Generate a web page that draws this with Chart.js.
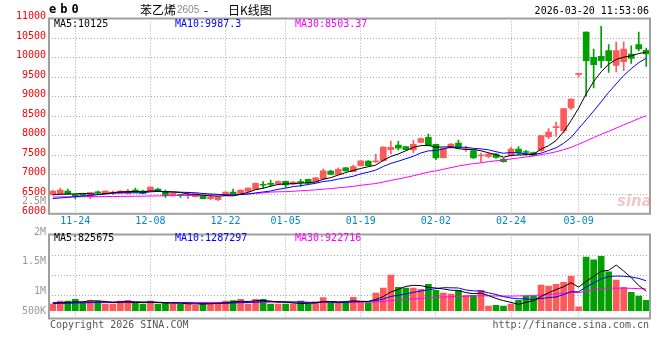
<!DOCTYPE html>
<html>
<head>
<meta charset="utf-8">
<script src="https://cdn.jsdelivr.net/npm/chart.js@4.4.1/dist/chart.umd.min.js"></script>
<style>
  body { margin: 0; background: #fff; }
  #wrap { position: relative; width: 660px; height: 360px; overflow: hidden; font-family: 'DejaVu Sans Mono', monospace; font-size: 10px; }
  canvas { position: absolute; left: 0; }
  .t { position: absolute; white-space: pre; line-height: 12px; }
  .vl { position: absolute; right: 614px; color: #999; line-height: 12px; }
</style>
</head>
<body>
<div id="wrap">
  <canvas id="kline" width="660" height="230" style="top:0"></canvas>
  <canvas id="vol" width="660" height="100" style="top:230px"></canvas>

  <div class="t" style="left:49px;top:3px;font-weight:bold;font-size:12px;letter-spacing:4px">eb0</div>
  <div class="t" style="left:140px;top:3px;font-family:'Noto Sans CJK SC';font-size:12px;line-height:14px">苯乙烯</div>
  <div class="t" style="left:177px;top:4px;font-family:'Liberation Sans';font-size:10px;color:#888">2605</div>
  <div class="t" style="left:204px;top:3px;font-family:'Noto Sans CJK SC';font-size:12px;line-height:14px">-</div>
  <div class="t" style="left:228px;top:3px;font-family:'Noto Sans CJK SC';font-size:12px;line-height:14px">日K线图</div>
  <div class="t" style="right:11px;top:5px">2026-03-20 11:53:06</div>

  <div class="t" style="left:54px;top:18px;color:#000">MA5:10125</div>
  <div class="t" style="left:175px;top:18px;color:#0000ff">MA10:9987.3</div>
  <div class="t" style="left:295px;top:18px;color:#ff00ff">MA30:8503.37</div>

  <div class="t" style="left:54px;top:232px;color:#000">MA5:825675</div>
  <div class="t" style="left:175px;top:232px;color:#0000ff">MA10:1287297</div>
  <div class="t" style="left:295px;top:232px;color:#ff00ff">MA30:922716</div>

  <div class="vl" style="top:195px">2.5M</div>
  <div class="vl" style="top:226px">2M</div>
  <div class="vl" style="top:255px">1.5M</div>
  <div class="vl" style="top:285px">1M</div>
  <div class="vl" style="top:305px">500K</div>

  <div class="t" style="left:617px;top:193px;font-family:'DejaVu Sans';font-style:italic;font-weight:bold;font-size:15px;line-height:16px;color:rgba(225,130,130,0.45)">sina</div>

  <div class="t" style="left:50px;top:319px;color:#555">Copyright 2026 SINA.COM</div>
  <div class="t" style="right:11px;top:319px;color:#555">http://finance.sina.com.cn</div>
</div>

<script>
const dates = [
  '11-19','11-20','11-21','11-24','11-25','11-26','11-27','11-28','12-01','12-02',
  '12-03','12-04','12-05','12-08','12-09','12-10','12-11','12-12','12-15','12-16',
  '12-17','12-18','12-19','12-22','12-23','12-24','12-25','12-26','12-29','12-30',
  '12-31','01-05','01-06','01-07','01-08','01-09','01-12','01-13','01-14','01-15',
  '01-16','01-19','01-20','01-21','01-22','01-23','01-26','01-27','01-28','01-29',
  '01-30','02-02','02-03','02-04','02-05','02-06','02-09','02-10','02-11','02-12',
  '02-13','02-24','02-25','02-26','02-27','03-02','03-03','03-04','03-05','03-06',
  '03-09','03-10','03-11','03-12','03-13','03-16','03-17','03-18','03-19','03-20'
];
const shownDates = ['11-24','12-08','12-22','01-05','01-19','02-02','02-24','03-09'];

const opens = [
  6489,6507,6584,6490,6478,6439,6545,6507,6524,6524,
  6515,6609,6584,6584,6635,6575,6464,6490,6480,6439,
  6456,6388,6362,6473,6558,6520,6575,6627,6745,6770,
  6763,6830,6760,6810,6880,6822,6891,7096,7011,7180,
  7078,7231,7352,7330,7359,7640,7761,7718,7633,7830,
  7958,7779,7436,7685,7812,7640,7616,7480,7471,7531,
  7403,7488,7659,7580,7565,7616,7975,8205,8128,8708,
  9570,10654,10006,10031,10176,9801,9894,10092,10330,10185
];
const highs = [
  6600,6660,6635,6500,6490,6545,6584,6590,6584,6595,
  6626,6661,6609,6690,6650,6609,6530,6500,6558,6520,
  6460,6490,6435,6560,6635,6615,6665,6790,6822,6865,
  6850,6840,6830,6883,6890,6930,7147,7115,7180,7190,
  7249,7365,7360,7523,7715,7864,7856,7725,7884,7948,
  8043,7785,7685,7800,7890,7727,7630,7557,7560,7545,
  7420,7710,7718,7625,7580,8010,8180,8350,8700,8945,
  9579,10660,10219,10799,10330,10398,10400,10300,10654,10245
];
const lows = [
  6480,6500,6500,6379,6460,6388,6490,6500,6490,6515,
  6510,6545,6515,6580,6570,6422,6460,6422,6388,6430,
  6380,6353,6336,6470,6485,6515,6570,6620,6653,6694,
  6755,6668,6750,6700,6775,6815,6885,7000,7005,7090,
  7070,7225,7225,7315,7350,7531,7633,7630,7564,7825,
  7740,7385,7430,7680,7680,7599,7415,7326,7440,7420,
  7320,7480,7514,7500,7480,7600,7924,7983,8069,8666,
  9505,9007,9220,9740,9621,9630,9664,9850,10176,9775
];
const closes = [
  6584,6605,6507,6439,6470,6541,6538,6584,6558,6584,
  6584,6550,6524,6686,6575,6473,6524,6473,6490,6515,
  6388,6430,6430,6558,6490,6609,6660,6781,6730,6755,
  6822,6740,6815,6800,6785,6924,7103,7011,7139,7096,
  7206,7359,7231,7340,7710,7700,7680,7640,7780,7923,
  7745,7430,7677,7787,7685,7665,7429,7500,7531,7446,
  7335,7659,7557,7570,7497,8000,8094,8215,8691,8939,
  9579,9920,9818,9920,9920,10176,10219,9981,10219,10091
];
const ma5 = [
  6490,6500,6505,6510,6523,6514,6501,6516,6540,6561,
  6570,6572,6560,6586,6584,6562,6556,6546,6507,6495,
  6478,6459,6451,6464,6459,6503,6549,6620,6654,6707,
  6750,6766,6772,6786,6792,6813,6885,6925,6992,7055,
  7111,7162,7206,7246,7369,7468,7532,7614,7702,7745,
  7754,7704,7711,7712,7665,7649,7649,7613,7562,7514,
  7448,7494,7506,7513,7524,7657,7744,7875,8099,8388,
  8704,9069,9389,9635,9831,9951,10011,10043,10103,10137
];
const ma10 = [
  6390,6405,6420,6440,6455,6470,6490,6510,6525,6542,
  6542,6536,6538,6563,6572,6566,6564,6553,6546,6539,
  6520,6508,6498,6486,6477,6491,6504,6535,6559,6583,
  6627,6658,6696,6720,6750,6781,6826,6849,6889,6924,
  6962,7024,7065,7119,7212,7290,7347,7410,7474,7557,
  7611,7618,7663,7707,7705,7701,7676,7662,7637,7590,
  7549,7571,7559,7538,7519,7552,7619,7690,7806,7956,
  8180,8406,8632,8867,9110,9327,9540,9716,9869,9984
];
const ma30 = [
  6432,6433,6434,6436,6437,6438,6440,6441,6443,6445,
  6447,6449,6452,6455,6458,6461,6464,6467,6470,6474,
  6478,6482,6486,6490,6495,6501,6511,6522,6536,6555,
  6563,6567,6577,6590,6600,6613,6631,6646,6665,6682,
  6703,6730,6753,6775,6813,6854,6892,6931,6974,7021,
  7066,7100,7141,7182,7222,7257,7283,7307,7334,7357,
  7374,7404,7429,7455,7479,7514,7547,7588,7639,7701,
  7780,7865,7951,8037,8111,8194,8278,8356,8438,8510
];

// volume, in thousands of lots
const volumeK = [
  289,410,410,493,335,447,410,289,289,410,
  447,335,289,410,289,344,289,289,289,233,
  344,344,344,410,438,493,289,493,493,289,
  289,289,289,410,289,385,560,335,335,335,
  577,410,335,754,968,1527,1005,968,968,922,
  1136,875,754,708,875,661,661,875,196,233,
  196,279,447,624,624,1099,1052,1136,1220,1480,
  168,2300,2179,2337,1666,1313,1005,791,624,447
];
const volMa5K = [
  330,345,360,375,387,419,419,395,354,369,
  369,354,354,378,354,333,324,324,300,289,
  289,300,311,335,376,406,395,425,441,411,
  371,371,330,313,313,332,387,396,381,390,
  428,398,398,482,609,799,918,1044,1087,1078,
  1000,974,931,879,870,775,732,756,654,525,
  432,356,270,356,434,615,769,907,1026,1197,
  1011,1261,1469,1693,1730,1959,1700,1422,1080,836
];
const volMa10K = [
  310,315,320,330,340,350,360,365,372,378,
  394,387,374,366,362,351,339,339,339,321,
  311,312,318,318,332,347,347,368,388,394,
  388,383,377,377,362,352,379,363,347,352,
  380,393,397,432,499,614,658,721,785,843,
  899,946,988,983,974,887,853,844,766,697,
  603,544,513,505,480,523,563,589,691,816,
  813,1015,1188,1360,1464,1485,1480,1446,1386,1283
];
const volMa30K = [
  345,345,346,346,347,347,348,348,349,349,
  350,350,351,351,352,352,353,353,354,354,
  355,355,356,357,358,359,360,361,363,364,
  364,360,356,354,352,350,355,357,358,356,
  360,362,364,375,398,437,461,484,507,530,
  556,574,587,597,612,617,630,643,633,631,
  628,627,633,640,651,675,691,718,747,786,
  772,835,896,949,972,965,965,959,948,932
];
const volGridK = [670, 1530, 2390];

const upColor = '#ff5a5a';
const downColor = '#00a000';
const candleColors = closes.map((c, i) => c >= opens[i] ? upColor : downColor);
const gridColor = '#aaaaaa';
const monoFont = { family: 'DejaVu Sans Mono', size: 10 };

const framePlugin = {
  id: 'frame',
  afterDraw(chart) {
    const { ctx, chartArea: a } = chart;
    ctx.save();
    ctx.strokeStyle = '#a0a0a0';
    ctx.lineWidth = 2;
    ctx.strokeRect(a.left, a.top, a.right - a.left, a.bottom - a.top);
    ctx.restore();
  }
};

function dateGrid(ctx) {
  return shownDates.includes(dates[ctx.index]) ? gridColor : 'rgba(0,0,0,0)';
}

function maLine(label, data, color) {
  return { type: 'line', label: label, data: data, borderColor: color, borderWidth: 1,
           pointRadius: 0, tension: 0, order: 0 };
}

new Chart(document.getElementById('kline'), {
  type: 'bar',
  data: {
    labels: dates,
    datasets: [
      maLine('MA5', ma5, '#000000'),
      maLine('MA10', ma10, '#0000ff'),
      maLine('MA30', ma30, '#ff00ff'),
      {
        label: 'body',
        data: opens.map((o, i) => [Math.min(o, closes[i]), Math.max(o, closes[i])]),
        backgroundColor: candleColors,
        barThickness: 6,
        minBarLength: 1,
        grouped: false,
        order: 1
      },
      {
        label: 'wick',
        data: lows.map((l, i) => [l, highs[i]]),
        backgroundColor: candleColors,
        barThickness: 1,
        grouped: false,
        order: 2
      }
    ]
  },
  options: {
    responsive: false,
    animation: false,
    events: [],
    layout: { padding: { top: 18.5, right: 10, left: 0, bottom: 0 } },
    plugins: { legend: { display: false }, tooltip: { enabled: false } },
    scales: {
      x: {
        offset: true,
        grid: { offset: false, color: dateGrid, drawTicks: false, lineWidth: 1 },
        border: { display: false, dash: [1, 2] },
        ticks: {
          autoSkip: false, maxRotation: 0, padding: 2, color: '#0088cc', font: monoFont,
          callback: (v, i) => shownDates.includes(dates[i]) ? dates[i] : ''
        },
        afterFit: s => { s.height = 16.2; }
      },
      y: {
        min: 6000,
        max: 11000,
        grid: { color: gridColor, drawTicks: false, lineWidth: 1 },
        border: { display: false, dash: [1, 2] },
        ticks: {
          stepSize: 500, color: '#ff0000', font: monoFont, padding: 3, labelOffset: -2,
          callback: v => String(v)
        },
        afterFit: s => { s.width = 49; }
      }
    }
  },
  plugins: [framePlugin]
});

new Chart(document.getElementById('vol'), {
  type: 'bar',
  data: {
    labels: dates,
    datasets: [
      maLine('MA5', volMa5K, '#000000'),
      maLine('MA10', volMa10K, '#0000ff'),
      maLine('MA30', volMa30K, '#ff00ff'),
      {
        label: 'volume',
        data: volumeK,
        backgroundColor: candleColors,
        barThickness: 6,
        order: 1
      }
    ]
  },
  options: {
    responsive: false,
    animation: false,
    events: [],
    layout: { padding: { top: 4.5, right: 10, left: 0, bottom: 11.5 } },
    plugins: { legend: { display: false }, tooltip: { enabled: false } },
    scales: {
      x: {
        offset: true,
        grid: { offset: false, color: dateGrid, drawTicks: false, lineWidth: 1 },
        border: { display: false, dash: [1, 2] },
        ticks: { display: false },
        afterFit: s => { s.height = 0; }
      },
      y: {
        min: -335,
        max: 3270,
        afterBuildTicks: ax => { ax.ticks = volGridK.map(v => ({ value: v })); },
        grid: { color: gridColor, drawTicks: false, lineWidth: 1 },
        border: { display: false, dash: [1, 2] },
        ticks: { display: false },
        afterFit: s => { s.width = 49; }
      }
    }
  },
  plugins: [framePlugin]
});
</script>
</body>
</html>
